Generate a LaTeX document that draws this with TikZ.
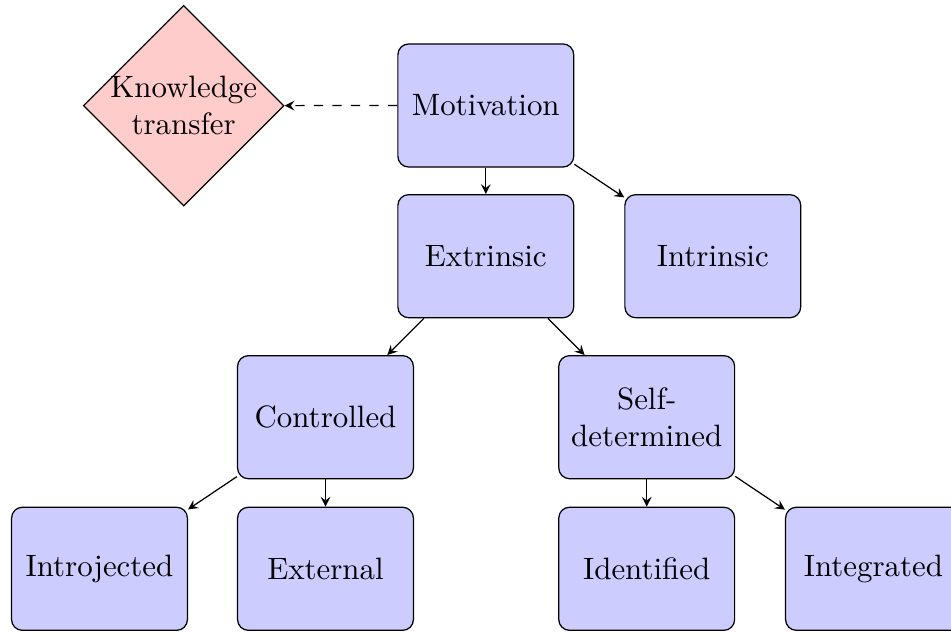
\documentclass[tikz,border=0pt]{standalone}
\usetikzlibrary{shapes.geometric,arrows}
\begin{document}
\begin{tikzpicture}[x=0.3236pt,y=-0.3236pt,
  box/.style={rectangle, draw, rounded corners=3.5pt, fill=blue!20,
    minimum width=2cm, minimum height=1.4cm, align=center},
  kdiam/.style={shape=diamond, draw, fill=red!20, inner sep=-0.4pt, align=center},
  link/.style={-stealth}]
\useasboundingbox (0,0) rectangle (951,634);
\node[box] (M) at (485.8,105.5) {Motivation};
\node[box] (E) at (485.8,256.2) {Extrinsic};
\node[box] (I) at (712.8,256.2) {Intrinsic};
\node[box] (C) at (325.5,417.2) {Controlled};
\node[box] (S) at (646.7,417.2) {Self-\\determined};
\node[box] (IJ) at (99.5,568.8) {Introjected};
\node[box] (EX) at (325.5,568.8) {External};
\node[box] (ID) at (646.7,568.8) {Identified};
\node[box] (IG) at (873.5,568.8) {Integrated};
\node[kdiam] (K) at (183.7,105.7) {Knowledge\\transfer};
\draw[link] (M) -- (E);
\draw[link] (M) -- (I);
\draw[link] (E) -- (C);
\draw[link] (E) -- (S);
\draw[link] (C) -- (IJ);
\draw[link] (C) -- (EX);
\draw[link] (S) -- (ID);
\draw[link] (S) -- (IG);
\draw[link, dashed] (M) -- (K);
\end{tikzpicture}
\end{document}
